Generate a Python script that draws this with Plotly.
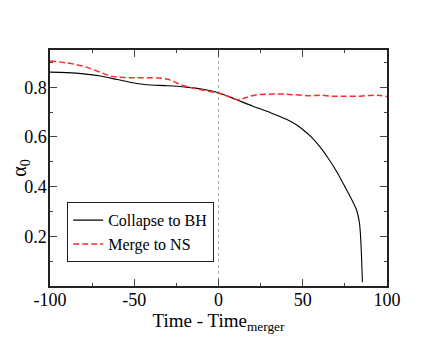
import plotly.graph_objects as go

# Collapse to BH
t_bh = [-100, -90, -80, -70, -60, -50, -45, -40, -30, -20, -10, 0, 10, 20, 30, 40,
        46, 50, 55, 60, 65, 70, 75, 80, 82, 83.6, 84.6, 85.4]
a_bh = [0.861, 0.859, 0.854, 0.845, 0.831, 0.817, 0.812, 0.809, 0.806, 0.801, 0.793,
        0.778, 0.752, 0.725, 0.700, 0.672, 0.650, 0.630, 0.600, 0.562, 0.515, 0.462,
        0.400, 0.335, 0.305, 0.256, 0.162, 0.015]

# Merge to NS
t_ns = [-100, -90, -80, -70, -64, -55, -45, -35, -30, -25, -20, -11, 0, 5, 11.7, 16,
        22, 30, 37, 45, 55, 60, 68, 75, 84, 90, 96, 100]
a_ns = [0.906, 0.898, 0.884, 0.860, 0.845, 0.839, 0.838, 0.837, 0.832, 0.818, 0.805,
        0.791, 0.776, 0.765, 0.750, 0.758, 0.769, 0.772, 0.773, 0.770, 0.766, 0.768,
        0.764, 0.764, 0.764, 0.767, 0.767, 0.763]

merger_time = 0
x_ticks = [-100, -50, 0, 50, 100]
y_ticks = [0.2, 0.4, 0.6, 0.8]

font = "'Liberation Serif', 'Times New Roman', Times, serif"

fig = go.Figure()
fig.add_trace(go.Scatter(x=t_bh, y=a_bh, mode="lines", name="Collapse to BH",
                         line=dict(color="black", width=1.1, shape="spline")))
fig.add_trace(go.Scatter(x=t_ns, y=a_ns, mode="lines", name="Merge to NS",
                         line=dict(color="#ff2a2a", width=1.5, dash="6px,3px", shape="spline")))

fig.add_shape(type="line", xref="x", yref="paper", x0=merger_time, x1=merger_time,
              y0=0, y1=1, line=dict(color="#b0b0b0", width=1, dash="dot"), layer="below")

axis_common = dict(showgrid=False, zeroline=False, showline=True, linecolor="#222222",
                   linewidth=1.5, mirror="allticks", ticks="inside", ticklen=7,
                   tickwidth=1, tickcolor="#444444", automargin=False,
                   tickfont=dict(family=font, size=18, color="black"))

fig.update_xaxes(range=[-100, 100], tickvals=x_ticks, ticktext=[str(v) for v in x_ticks],
                 minor=dict(dtick=25, ticks="inside", ticklen=3, tickcolor="#444444"),
                 ticklabelstandoff=-3,
                 title=dict(text="Time - Time<sub>merger</sub>",
                            font=dict(family=font, size=19, color="black"), standoff=0),
                 **axis_common)
fig.update_yaxes(range=[0, 0.95], tickvals=y_ticks, ticktext=[f"{v:.1f}" for v in y_ticks],
                 minor=dict(dtick=0.1, ticks="inside", ticklen=3, tickcolor="#444444"),
                 ticklabelstandoff=-2,
                 title=dict(text="α<sub>0</sub>",
                            font=dict(family=font, size=20, color="black"), standoff=8),
                 **axis_common)

fig.update_layout(
    width=428, height=329,
    margin=dict(l=42, r=49, t=42, b=51),
    paper_bgcolor="white", plot_bgcolor="white",
    font=dict(family=font, size=16, color="black"),
    showlegend=True,
    legend=dict(x=0.051, y=0.355, xanchor="left", yanchor="top",
                bordercolor="#222222", borderwidth=1, bgcolor="white",
                font=dict(family=font, size=16, color="black"),
                tracegroupgap=0, itemwidth=30),
)

fig.write_html("out.html")
